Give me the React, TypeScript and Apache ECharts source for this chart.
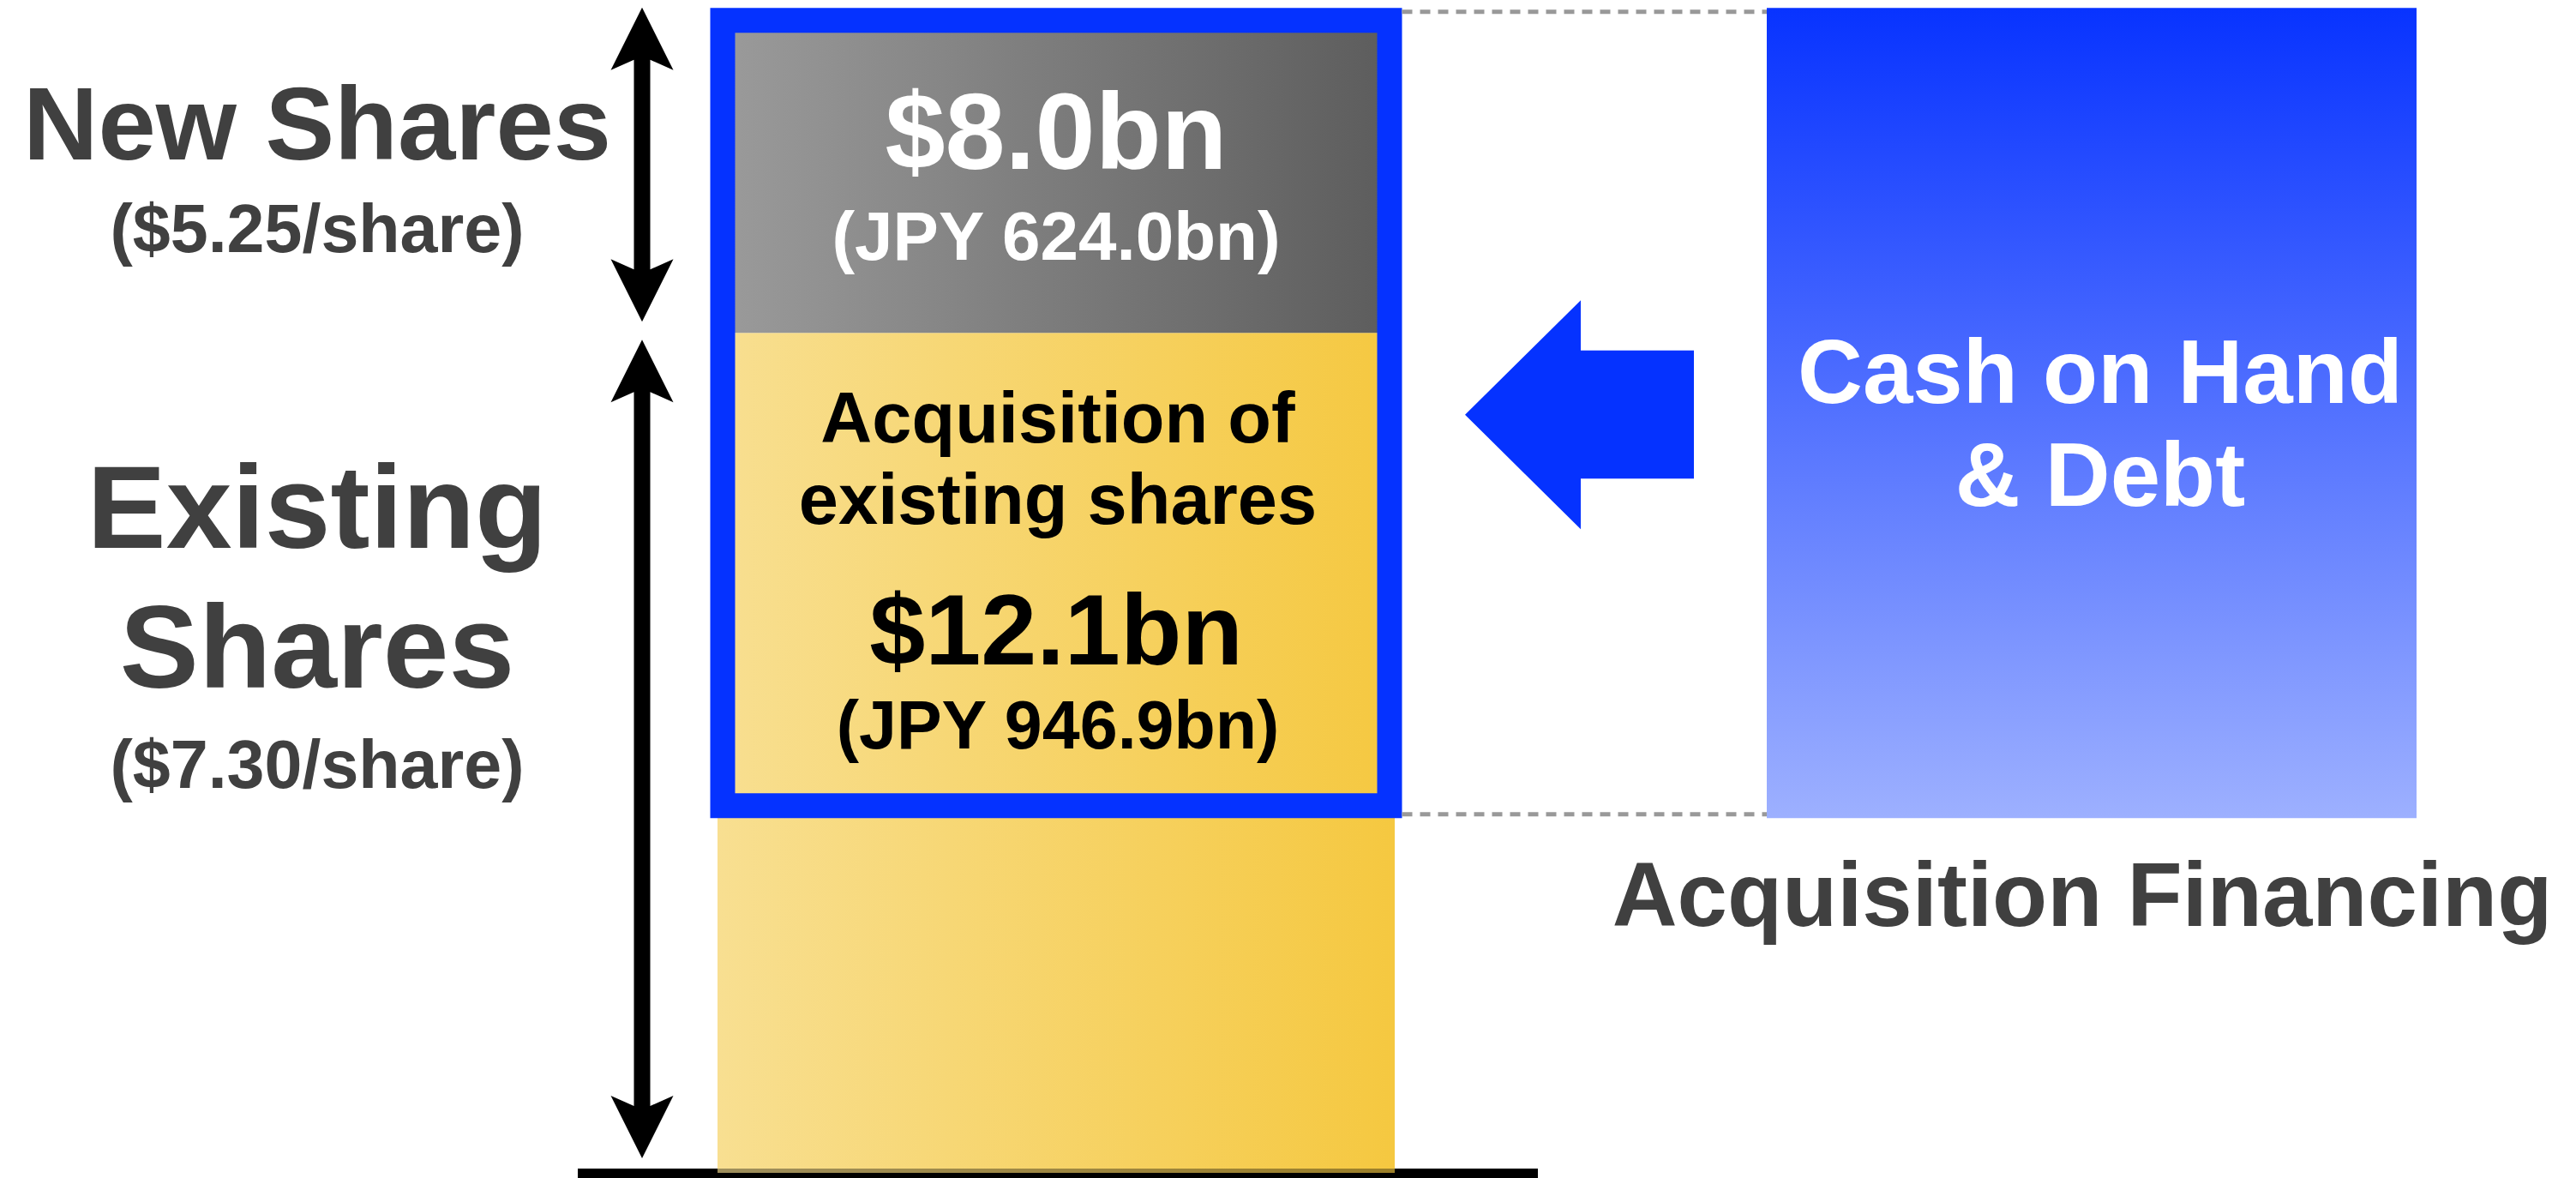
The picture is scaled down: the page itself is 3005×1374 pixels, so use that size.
import React, { useEffect, useRef } from "react";
import * as echarts from "echarts";

// ---- data ($bn) ----
const categories = ["Target", "Transfer", "Financing"];
const existingSharesBn = [21.5, "-", "-"];
const newSharesBn = [8.0, "-", "-"];
const acquisitionOfExistingBn = 12.1;

// ---- texts ----
const newSharesTitle = "New Shares";
const newSharesPrice = "($5.25/share)";
const existingTitle = ["Existing", "Shares"];
const existingPrice = "($7.30/share)";
const newSharesLabel = ["$8.0bn", "(JPY 624.0bn)"];
const acquisitionLabel = ["Acquisition of", "existing shares", "$12.1bn", "(JPY 946.9bn)"];
const financingLabel = ["Cash on Hand", "& Debt"];
const financingTitle = "Acquisition Financing";

const FONT = '"Liberation Sans", Arial, Helvetica, sans-serif';
const BLUE = "#0532FF";
const DARK = "#404040";
const BAR_W = 790;

function txt(text: string, x: number, y: number, size: number, fill: string) {
  return {
    type: "text",
    x,
    y,
    style: {
      text,
      fill,
      fontFamily: FONT,
      fontWeight: "bold",
      fontSize: size,
      align: "center",
      verticalAlign: "middle",
    },
  };
}

function dimArrow(cx: number, yTop: number, yBot: number) {
  const hw = 36.5, hl = 73, notch = 61, sw = 9.5;
  return {
    type: "polygon",
    shape: {
      points: [
        [cx, yTop],
        [cx + hw, yTop + hl],
        [cx + sw, yTop + notch],
        [cx + sw, yBot - notch],
        [cx + hw, yBot - hl],
        [cx, yBot],
        [cx - hw, yBot - hl],
        [cx - sw, yBot - notch],
        [cx - sw, yTop + notch],
        [cx - hw, yTop + hl],
      ],
    },
    style: { fill: "#000" },
  };
}

export default function App() {
  const ref = useRef<HTMLDivElement>(null);
  useEffect(() => {
    if (!ref.current) return;
    const chart = echarts.init(ref.current, undefined, { renderer: "svg" });
    const ex = existingSharesBn[0] as number;
    const nw = newSharesBn[0] as number;
    const boxLow = ex - acquisitionOfExistingBn;

    chart.setOption({
      animation: false,
      backgroundColor: "#fff",
      grid: { left: 930, right: 263, top: 1, bottom: 6, containLabel: false },
      xAxis: { type: "category", data: categories, show: false },
      yAxis: { type: "value", min: 0, max: 30, show: false, splitLine: { show: false } },
      series: [
        {
          type: "custom",
          z: 1,
          clip: false,
          data: [[0, 0]],
          renderItem: (_p: any, api: any) => {
            const base = api.coord([0, 0]);
            const cx = base[0];
            return {
              type: "rect",
              shape: { x: cx - 558, y: base[1] - 5, width: 1120, height: 20 },
              style: { fill: "#000" },
            };
          },
        },
        {
          name: "Existing Shares",
          type: "bar",
          stack: "s",
          clip: false,
          barWidth: BAR_W,
          data: existingSharesBn,
          itemStyle: {
            color: new echarts.graphic.LinearGradient(0, 0, 1, 0, [
              { offset: 0, color: "#F8DF91" },
              { offset: 1, color: "#F5C840" },
            ]),
          },
        },
        {
          name: "New Shares",
          type: "bar",
          stack: "s",
          clip: false,
          barWidth: BAR_W,
          data: newSharesBn,
          itemStyle: {
            color: new echarts.graphic.LinearGradient(0, 0, 1, 0, [
              { offset: 0, color: "#9B9B9B" },
              { offset: 1, color: "#5C5C5C" },
            ]),
          },
        },
        {
          type: "custom",
          z: 3,
          clip: false,
          data: [[0, 0]],
          renderItem: (_p: any, api: any) => {
            const top = api.coord([0, ex + nw]);
            const mid = api.coord([0, ex]);
            const low = api.coord([0, boxLow]);
            const base = api.coord([0, 0]);
            const arrowC = api.coord([1, 0]);
            const fin = api.coord([2, 0]);
            const cx = top[0];
            const boxHalf = 389;
            const bw = 29;
            const finHalf = 379;
            const cy = (top[1] + low[1]) / 2 + 2;
            const ax = arrowC[0];
            const lx = cx - 862;
            const children: any[] = [];
            // dark strip where bar overlaps baseline
            children.push({
              type: "rect",
              shape: { x: cx - BAR_W / 2, y: base[1] - 5, width: BAR_W, height: 5 },
              style: { fill: "rgba(0,0,0,0.36)" },
            });
            // box around acquisition
            children.push({
              type: "rect",
              shape: { x: cx - boxHalf, y: top[1], width: boxHalf * 2, height: low[1] - top[1] },
              style: { fill: "none", stroke: BLUE, lineWidth: bw },
            });
            // dotted connectors
            const x1 = cx + boxHalf + bw / 2;
            const x2 = fin[0] - finHalf;
            [top[1] - 10, low[1] + 10].forEach((y) =>
              children.push({
                type: "line",
                shape: { x1, y1: y, x2, y2: y },
                style: { stroke: "#999999", lineWidth: 5, lineDash: [12, 9] },
              })
            );
            // financing rect
            const fy0 = top[1] - bw / 2;
            const fy1 = low[1] + bw / 2;
            children.push({
              type: "rect",
              shape: { x: fin[0] - finHalf, y: fy0, width: finHalf * 2, height: fy1 - fy0 },
              style: {
                fill: new echarts.graphic.LinearGradient(0, 0, 0, 1, [
                  { offset: 0, color: "#0833FF" },
                  { offset: 1, color: "#9DB0FF" },
                ]),
              },
            });
            // block arrow
            children.push({
              type: "polygon",
              shape: {
                points: [
                  [ax - 127, cy],
                  [ax + 8, cy - 133.5],
                  [ax + 8, cy - 75],
                  [ax + 140, cy - 75],
                  [ax + 140, cy + 74.5],
                  [ax + 8, cy + 74.5],
                  [ax + 8, cy + 133.5],
                ],
              },
              style: { fill: BLUE },
            });
            // dimension arrows
            children.push(dimArrow(cx - 483, top[1] - 15, mid[1] - 13));
            children.push(dimArrow(cx - 483, mid[1] + 8, base[1] - 17));
            // bar texts
            children.push(txt(newSharesLabel[0], cx, 153, 126, "#fff"));
            children.push(txt(newSharesLabel[1], cx, 275.5, 80, "#fff"));
            children.push(txt(acquisitionLabel[0], cx + 2, 487, 83, "#000"));
            children.push(txt(acquisitionLabel[1], cx + 2, 582.5, 83, "#000"));
            children.push(txt(acquisitionLabel[2], cx, 734, 117, "#000"));
            children.push(txt(acquisitionLabel[3], cx + 2, 845.5, 79, "#000"));
            // left texts
            children.push(txt(newSharesTitle, lx, 144, 121, DARK));
            children.push(txt(newSharesPrice, lx, 266.5, 79, DARK));
            children.push(txt(existingTitle[0], lx, 590.5, 138, DARK));
            children.push(txt(existingTitle[1], lx, 754, 138, DARK));
            children.push(txt(existingPrice, lx, 891.5, 79, DARK));
            // financing texts
            children.push(txt(financingLabel[0], fin[0] + 10, 433, 105, "#fff"));
            children.push(txt(financingLabel[1], fin[0] + 10, 553.5, 105, "#fff"));
            children.push(txt(financingTitle, fin[0] - 11, 1043, 105, DARK));
            return { type: "group", children };
          },
        },
      ],
    });
    return () => chart.dispose();
  }, []);
  return (
    <div
      ref={ref}
      style={{ position: "absolute", left: 0, top: 0, width: 3005, height: 1374 }}
    />
  );
}
